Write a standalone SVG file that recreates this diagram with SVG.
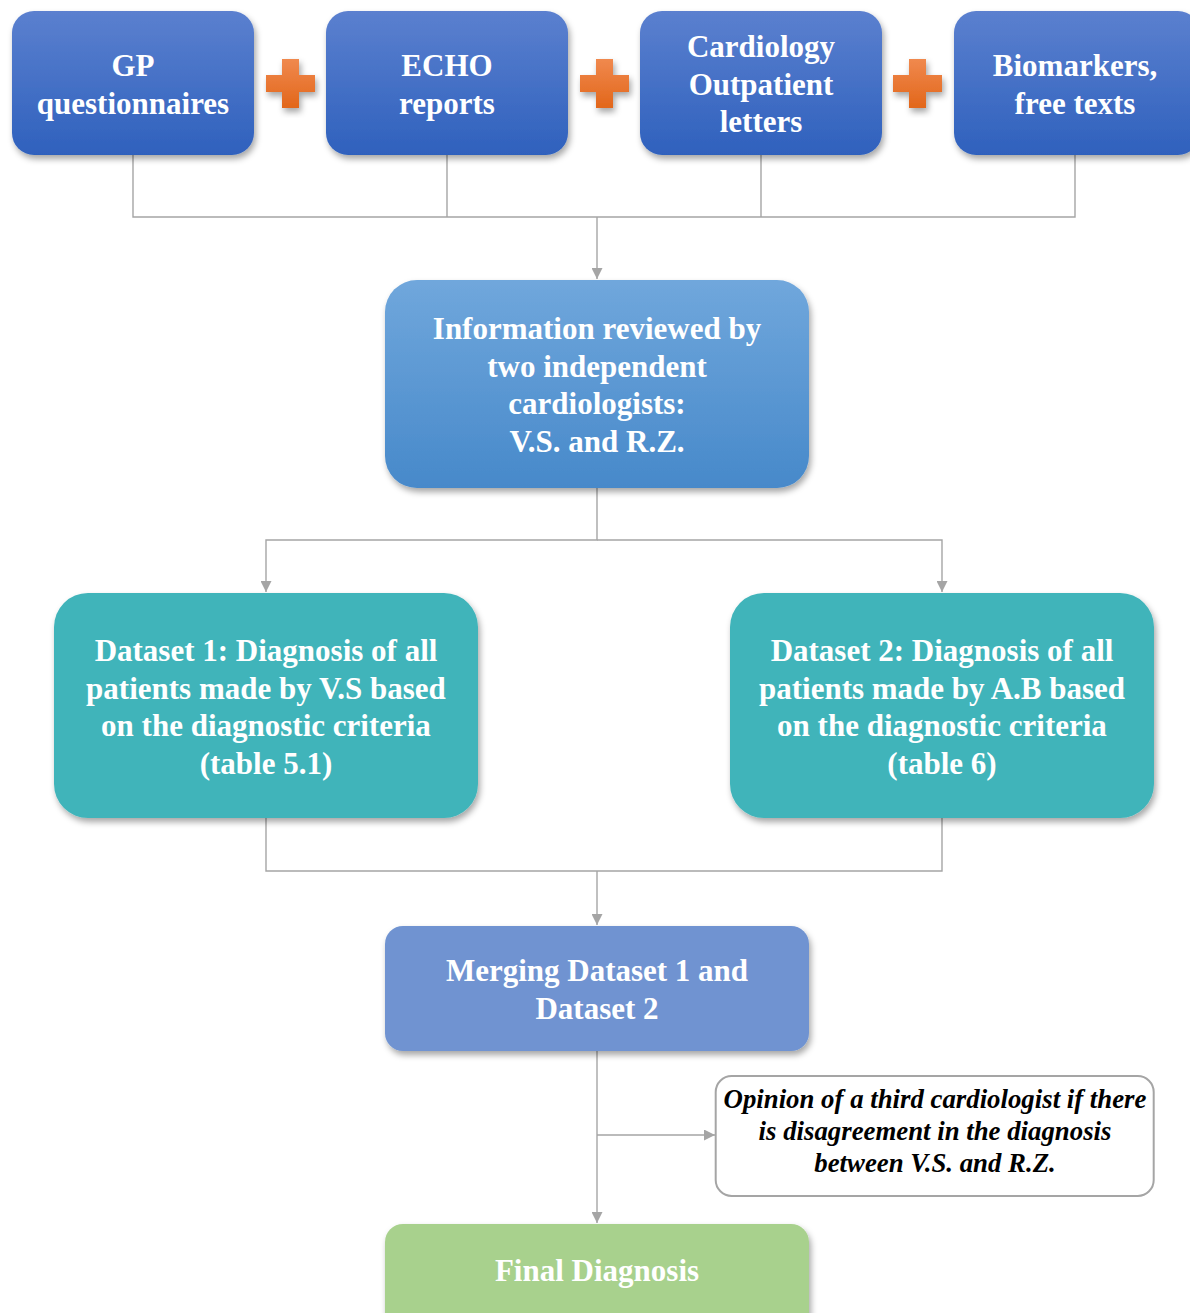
<svg xmlns="http://www.w3.org/2000/svg" width="1190" height="1313" viewBox="0 0 1190 1313">
  <defs>
    <linearGradient id="gTop" x1="0" y1="0" x2="0" y2="1">
      <stop offset="0" stop-color="#5B80CF"/>
      <stop offset="1" stop-color="#2F61BD"/>
    </linearGradient>
    <linearGradient id="gInfo" x1="0" y1="0" x2="0" y2="1">
      <stop offset="0" stop-color="#70A7DC"/>
      <stop offset="1" stop-color="#4789CA"/>
    </linearGradient>
    <linearGradient id="gPlus" x1="0" y1="0" x2="0" y2="1">
      <stop offset="0" stop-color="#F0894E"/>
      <stop offset="1" stop-color="#E2661A"/>
    </linearGradient>
    <filter id="shadow" x="-10%" y="-10%" width="125%" height="130%">
      <feDropShadow dx="2" dy="4" stdDeviation="3" flood-color="#000" flood-opacity="0.35"/>
    </filter>
    <marker id="arrow" viewBox="0 0 10 10" refX="10" refY="5" markerWidth="11" markerHeight="11" markerUnits="userSpaceOnUse" orient="auto">
      <path d="M0,0 L10,5 L0,10 Z" fill="#A5A5A5"/>
    </marker>
    <style>
      .lbl { font-family: "Liberation Serif", "Times New Roman", serif; font-weight: bold; font-size: 31px; fill: #FFFFFF; text-anchor: middle; }
      .note { font-family: "Liberation Serif", "Times New Roman", serif; font-weight: bold; font-style: italic; font-size: 26.8px; fill: #000000; text-anchor: middle; }
      .top { fill: url(#gTop); filter: url(#shadow); }
      .info { fill: url(#gInfo); filter: url(#shadow); }
      .teal { fill: #40B4BA; filter: url(#shadow); }
      .merge { fill: #6F93D1; filter: url(#shadow); }
      .final { fill: #A8D18D; filter: url(#shadow); }
      .plus { fill: url(#gPlus); filter: url(#shadow); }
      .wire { fill: none; stroke: #A5A5A5; stroke-width: 1.4; }
    </style>
  </defs>

  <rect width="1190" height="1313" fill="#FFFFFF"/>

  <!-- connectors -->
  <g id="connectors">
    <path class="wire" d="M133,155 V217 H1075 V155 M447,155 V217 M761,155 V217"/>
    <path class="wire" d="M597,217 V279" marker-end="url(#arrow)"/>
    <path class="wire" d="M597,488 V540 H266 V592" marker-end="url(#arrow)"/>
    <path class="wire" d="M597,540 H942 V592" marker-end="url(#arrow)"/>
    <path class="wire" d="M266,818 V871 H942 V818"/>
    <path class="wire" d="M597,871 V925" marker-end="url(#arrow)"/>
    <path class="wire" d="M597,1051 V1223" marker-end="url(#arrow)"/>
    <path class="wire" d="M597,1135 H715" marker-end="url(#arrow)"/>
  </g>

  <!-- source documents -->
  <g id="gp">
    <rect class="top" x="12" y="11" width="242" height="144" rx="22"/>
    <text class="lbl"><tspan x="133" y="76">GP</tspan><tspan x="133" y="114">questionnaires</tspan></text>
  </g>
  <g id="echo">
    <rect class="top" x="326" y="11" width="242" height="144" rx="22"/>
    <text class="lbl"><tspan x="447" y="76">ECHO</tspan><tspan x="447" y="114">reports</tspan></text>
  </g>
  <g id="cardiology">
    <rect class="top" x="640" y="11" width="242" height="144" rx="22"/>
    <text class="lbl"><tspan x="761" y="57">Cardiology</tspan><tspan x="761" y="95">Outpatient</tspan><tspan x="761" y="132">letters</tspan></text>
  </g>
  <g id="biomarkers">
    <rect class="top" x="954" y="11" width="246" height="144" rx="22"/>
    <text class="lbl"><tspan x="1075" y="76">Biomarkers,</tspan><tspan x="1075" y="114">free texts</tspan></text>
  </g>

  <!-- plus signs between sources -->
  <g id="plus1">
    <path class="plus" d="M282,59 H299 V75 H315 V92 H299 V108 H282 V92 H266 V75 H282 Z"/>
  </g>
  <g id="plus2">
    <path class="plus" d="M596,59 H613 V75 H629 V92 H613 V108 H596 V92 H580 V75 H596 Z"/>
  </g>
  <g id="plus3">
    <path class="plus" d="M909,59 H926 V75 H942 V92 H926 V108 H909 V92 H893 V75 H909 Z"/>
  </g>

  <!-- review -->
  <g id="review">
    <rect class="info" x="385" y="280" width="424" height="208" rx="32"/>
    <text class="lbl"><tspan x="597" y="339">Information reviewed by</tspan><tspan x="597" y="377">two independent</tspan><tspan x="597" y="414">cardiologists:</tspan><tspan x="597" y="452">V.S. and R.Z.</tspan></text>
  </g>

  <!-- datasets -->
  <g id="dataset1">
    <rect class="teal" x="54" y="593" width="424" height="225" rx="34"/>
    <text class="lbl"><tspan x="266" y="661">Dataset 1: Diagnosis of all</tspan><tspan x="266" y="699">patients made by V.S based</tspan><tspan x="266" y="736">on the diagnostic criteria</tspan><tspan x="266" y="774">(table 5.1)</tspan></text>
  </g>
  <g id="dataset2">
    <rect class="teal" x="730" y="593" width="424" height="225" rx="34"/>
    <text class="lbl"><tspan x="942" y="661">Dataset 2: Diagnosis of all</tspan><tspan x="942" y="699">patients made by A.B based</tspan><tspan x="942" y="736">on the diagnostic criteria</tspan><tspan x="942" y="774">(table 6)</tspan></text>
  </g>

  <!-- merge -->
  <g id="merge">
    <rect class="merge" x="385" y="926" width="424" height="125" rx="18"/>
    <text class="lbl"><tspan x="597" y="981">Merging Dataset 1 and</tspan><tspan x="597" y="1019">Dataset 2</tspan></text>
  </g>

  <!-- third opinion -->
  <g id="third-opinion">
    <rect x="715.7" y="1076" width="438" height="120" rx="16" fill="#FFFFFF" stroke="#A5A5A5" stroke-width="2"/>
    <text class="note"><tspan x="935" y="1108">Opinion of a third cardiologist if there</tspan><tspan x="935" y="1140">is disagreement in the diagnosis</tspan><tspan x="935" y="1172">between V.S. and R.Z.</tspan></text>
  </g>

  <!-- outcome -->
  <g id="final">
    <rect class="final" x="385" y="1224" width="424" height="110" rx="18"/>
    <text class="lbl"><tspan x="597" y="1281">Final Diagnosis</tspan></text>
  </g>
</svg>
